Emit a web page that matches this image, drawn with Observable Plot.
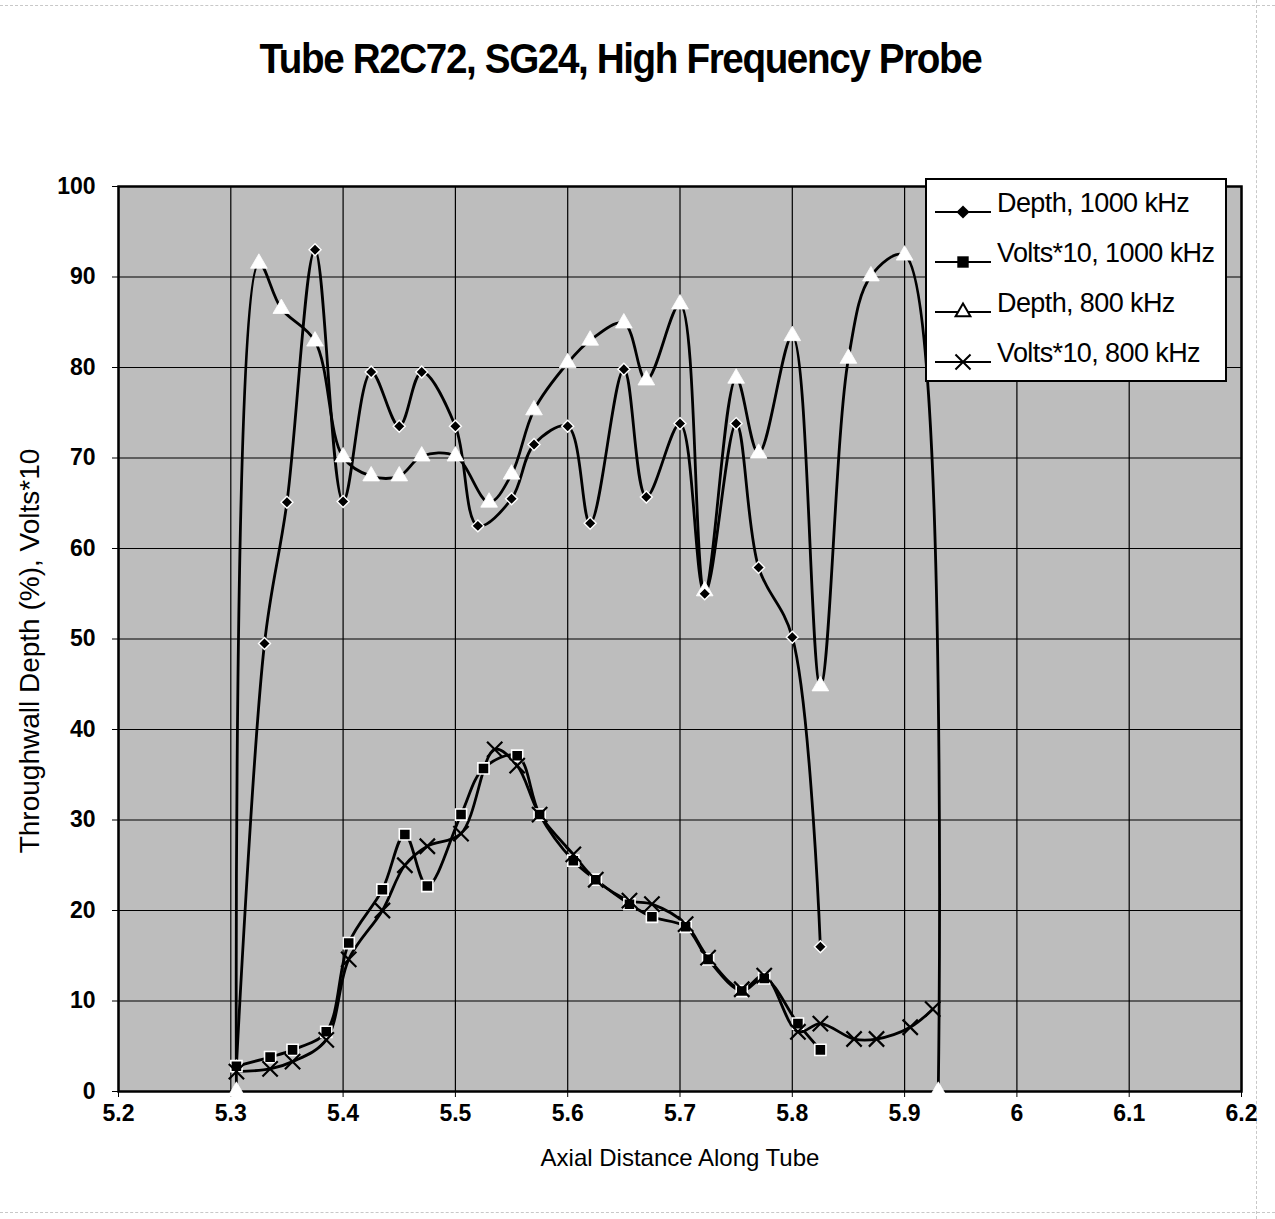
<!DOCTYPE html>
<html>
<head>
<meta charset="utf-8">
<script src="https://cdn.jsdelivr.net/npm/d3@7"></script>
<script src="https://cdn.jsdelivr.net/npm/@observablehq/plot@0.6"></script>
<style>
  body { margin: 0; background: #fff; }
  #wrap { position: relative; width: 1275px; height: 1219px; overflow: hidden;
          font-family: "Liberation Sans", Arial, sans-serif; }
  #title { position: absolute; left: 0; top: 35px; width: 1240px; text-align: center;
           font-size: 42px; font-weight: bold; letter-spacing: -1.5px; color: #000; }
  #title span { display: inline-block; transform: scaleX(0.92); transform-origin: 50% 50%; }
  #chart { position: absolute; left: 0; top: 0; }
  #legend { position: absolute; left: 925px; top: 178px; width: 302px; height: 204px;
            background: #fff; border: 2px solid #000; box-sizing: border-box; }
  .lrow { position: absolute; left: 6px; height: 40px; }
  .lrow svg { position: absolute; left: 0; top: 0; }
  .lrow span { position: absolute; left: 64px; top: 0; font-size: 27px; white-space: nowrap;
               letter-spacing: -0.6px; color: #000; }
  .edge { position: absolute; border-color: #c8c8c8; border-style: dashed; border-width: 0; }
</style>
</head>
<body>
<div id="wrap">
  <div class="edge" style="left:0;top:5px;width:1275px;border-top-width:1px;"></div>
  <div class="edge" style="left:0;top:1212px;width:1275px;border-top-width:1px;"></div>
  <div class="edge" style="left:1256px;top:0;height:1219px;border-left-width:1px;"></div>
  <div id="chart"></div>
  <div id="title"><span>Tube R2C72, SG24, High Frequency Probe</span></div>
  <div id="legend"></div>
</div>
<script>
// ---- data ----
const seriesNames = ["Depth, 1000 kHz", "Volts*10, 1000 kHz", "Depth, 800 kHz", "Volts*10, 800 kHz"];

const xDepth1000 = [5.305, 5.33, 5.35, 5.375, 5.40, 5.425, 5.45, 5.47, 5.50, 5.52, 5.55, 5.57, 5.60, 5.62, 5.65, 5.67, 5.70, 5.722, 5.75, 5.77, 5.80, 5.825];
const depth1000  = [2.8, 49.5, 65.1, 93.0, 65.2, 79.5, 73.5, 79.5, 73.5, 62.5, 65.5, 71.5, 73.5, 62.8, 79.8, 65.7, 73.8, 55.0, 73.8, 57.9, 50.2, 16.0];

const xVolts1000 = [5.305, 5.335, 5.355, 5.385, 5.405, 5.435, 5.455, 5.475, 5.505, 5.525, 5.555, 5.575, 5.605, 5.625, 5.655, 5.675, 5.705, 5.725, 5.755, 5.775, 5.805, 5.825];
const volts1000  = [2.8, 3.8, 4.6, 6.6, 16.4, 22.3, 28.4, 22.7, 30.6, 35.7, 37.1, 30.6, 25.5, 23.4, 20.7, 19.3, 18.2, 14.6, 11.1, 12.5, 7.5, 4.6];

const xDepth800 = [5.305, 5.325, 5.345, 5.375, 5.40, 5.425, 5.45, 5.47, 5.50, 5.53, 5.55, 5.57, 5.60, 5.62, 5.65, 5.67, 5.70, 5.722, 5.75, 5.77, 5.80, 5.825, 5.85, 5.87, 5.90, 5.93];
const depth800  = [0, 91.5, 86.5, 82.9, 70.1, 68.0, 68.0, 70.2, 70.2, 65.1, 68.2, 75.3, 80.5, 83.0, 84.9, 78.6, 87.0, 55.3, 78.8, 70.5, 83.5, 44.8, 81.0, 90.1, 92.4, 0];

const xVolts800 = [5.305, 5.335, 5.355, 5.385, 5.405, 5.435, 5.455, 5.475, 5.505, 5.535, 5.555, 5.575, 5.605, 5.625, 5.655, 5.675, 5.705, 5.725, 5.755, 5.775, 5.805, 5.825, 5.855, 5.875, 5.905, 5.925];
const volts800  = [2.2, 2.5, 3.3, 5.7, 14.6, 20.0, 25.0, 27.1, 28.5, 37.8, 36.0, 30.6, 26.2, 23.4, 21.1, 20.7, 18.5, 14.8, 11.3, 12.8, 6.6, 7.5, 5.8, 5.8, 7.1, 9.1];

const xTicks = [5.2, 5.3, 5.4, 5.5, 5.6, 5.7, 5.8, 5.9, 6.0, 6.1, 6.2];
const xTickLabels = ["5.2", "5.3", "5.4", "5.5", "5.6", "5.7", "5.8", "5.9", "6", "6.1", "6.2"];
const yTicks = [0, 10, 20, 30, 40, 50, 60, 70, 80, 90, 100];

const xLabel = "Axial Distance Along Tube";
const yLabel = "Throughwall Depth (%), Volts*10";

// ---- tables ----
const toRows = (xs, ys) => xs.map((x, i) => ({x, y: ys[i]}));
const dD1000 = toRows(xDepth1000, depth1000);
const dV1000 = toRows(xVolts1000, volts1000);
const dD800 = toRows(xDepth800, depth800);
const dV800 = toRows(xVolts800, volts800);

const FONT = '"Liberation Sans", Arial, sans-serif';
const lineOpts = {x: "x", y: "y", curve: "catmull-rom", stroke: "#000", strokeWidth: 2.8};

const chart = Plot.plot({
  width: 1275,
  height: 1219,
  marginLeft: 118,
  marginRight: 34,
  marginTop: 186,
  marginBottom: 128,
  style: {fontFamily: FONT, background: "transparent", color: "#000", overflow: "visible"},
  x: {domain: [5.2, 6.2]},
  y: {domain: [0, 100]},
  marks: [
    Plot.frame({fill: "#bdbdbd"}),
    Plot.ruleX(xTicks, {stroke: "#000", strokeWidth: 1.2}),
    Plot.ruleY(yTicks, {stroke: "#000", strokeWidth: 1.2}),
    Plot.frame({stroke: "#000", strokeWidth: 2.5}),
    Plot.axisX({ticks: xTicks, tickFormat: d => xTickLabels[xTicks.findIndex(t => Math.abs(t - d) < 1e-9)],
      tickSize: 6, tickPadding: 7, fontSize: 23, fontWeight: "bold", label: null}),
    Plot.axisY({ticks: yTicks, tickSize: 6, tickPadding: 17, fontSize: 23, fontWeight: "bold", label: null}),
    Plot.text([xLabel], {text: d => d, frameAnchor: "bottom", dy: 74, fontSize: 24, fill: "#000"}),
    Plot.text([yLabel], {text: d => d, frameAnchor: "left", textAnchor: "middle", dx: -88, dy: 12, rotate: -90,
      fontSize: 28, fill: "#000"}),
    // lines
    Plot.line(dD1000, lineOpts),
    Plot.line(dV1000, lineOpts),
    Plot.line(dD800, lineOpts),
    Plot.line(dV800, lineOpts),
    // markers
    Plot.dot(dD800, {x: "x", y: "y", symbol: "triangle", r: 6.2, fill: "#fff", stroke: "#fff", strokeWidth: 0.8}),
    Plot.dot(dD1000, {x: "x", y: "y", symbol: "diamond2", r: 5.4, fill: "#000", stroke: "#fff", strokeWidth: 1.4}),
    Plot.dot(dV1000, {x: "x", y: "y", symbol: "square", r: 6.3, fill: "#000", stroke: "#fff", strokeWidth: 1.6}),
    Plot.dot(dV800, {x: "x", y: "y", symbol: "times", r: 7, stroke: "#000", strokeWidth: 2.2})
  ]
});
document.getElementById("chart").appendChild(chart);

// ---- legend ----
const legendSymbols = [
  {type: d3.symbolDiamond2, size: 110, fill: "#000", stroke: "none"},
  {type: d3.symbolSquare, size: 130, fill: "#000", stroke: "none"},
  {type: d3.symbolTriangle, size: 95, fill: "#fff", stroke: "#000"},
  {type: d3.symbolTimes, size: 150, fill: "none", stroke: "#000"}
];
const rowTops = [8, 58, 108, 158];
const legend = d3.select("#legend");
seriesNames.forEach((name, i) => {
  const row = legend.append("div").attr("class", "lrow").style("top", rowTops[i] + "px").style("width", "290px");
  const svg = row.append("svg").attr("width", 62).attr("height", 40);
  svg.append("line").attr("x1", 2).attr("x2", 58).attr("y1", 24).attr("y2", 24)
    .attr("stroke", "#000").attr("stroke-width", 1.8);
  const s = legendSymbols[i];
  svg.append("path").attr("d", d3.symbol(s.type, s.size)()).attr("transform", "translate(30,24)")
    .attr("fill", s.fill).attr("stroke", s.stroke).attr("stroke-width", 2);
  row.append("span").text(name);
});
</script>
</body>
</html>
